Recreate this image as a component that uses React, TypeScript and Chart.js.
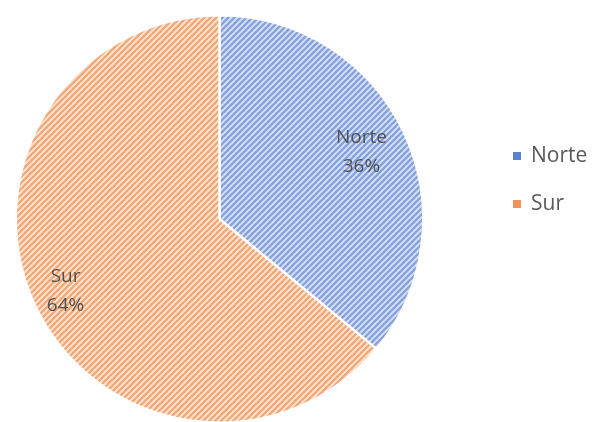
import React, { useEffect, useRef } from "react";
import { Chart, registerables } from "chart.js";

Chart.register(...registerables);

const categories = ["Norte", "Sur"];
const shares = [36, 64];
const legendColors = ["#5b82d0", "#f0955a"];
const lineColors = ["#86a2dc", "#f3a877"];
const bgColors = ["#d7e1f4", "#fde5d3"];
const labelRadius = [0.77, 0.835];

function makePattern(bg: string, line: string): CanvasPattern | string {
  const s = 6;
  const c = document.createElement("canvas");
  c.width = s;
  c.height = s;
  const g = c.getContext("2d");
  if (!g) return line;
  g.fillStyle = bg;
  g.fillRect(0, 0, s, s);
  g.strokeStyle = line;
  g.lineWidth = 2.3;
  g.beginPath();
  g.moveTo(-1, s + 1);
  g.lineTo(s + 1, -1);
  g.moveTo(-1, 1);
  g.lineTo(1, -1);
  g.moveTo(s - 1, s + 1);
  g.lineTo(s + 1, s - 1);
  g.stroke();
  const p = g.createPattern(c, "repeat");
  return p || line;
}

const labelPlugin = {
  id: "sliceLabels",
  afterDatasetsDraw(chart: any) {
    const ctx = chart.ctx;
    const meta = chart.getDatasetMeta(0);
    const data = chart.data.datasets[0].data as number[];
    const total = data.reduce((a, b) => a + b, 0);
    ctx.save();
    ctx.font = "19px 'Open Sans', sans-serif";
    ctx.fillStyle = "#505050";
    ctx.textAlign = "center";
    ctx.textBaseline = "middle";
    meta.data.forEach((arc: any, i: number) => {
      const { x, y, startAngle, endAngle, outerRadius } = arc.getProps(
        ["x", "y", "startAngle", "endAngle", "outerRadius"],
        true
      );
      const mid = (startAngle + endAngle) / 2;
      const r = outerRadius * labelRadius[i];
      const cx = x + Math.cos(mid) * r;
      const cy = y + Math.sin(mid) * r;
      const pct = Math.round((data[i] / total) * 100) + "%";
      ctx.fillText(chart.data.labels[i], cx, cy - 15);
      ctx.fillText(pct, cx, cy + 14);
    });
    ctx.restore();
  },
};

const legendPlugin = {
  id: "sideLegend",
  afterDraw(chart: any) {
    const ctx = chart.ctx;
    ctx.save();
    ctx.font = "21px 'Open Sans', sans-serif";
    ctx.textBaseline = "middle";
    ctx.textAlign = "left";
    const x0 = 513;
    const y0 = 156;
    const gap = 48;
    (chart.data.labels as string[]).forEach((lab, i) => {
      const y = y0 + i * gap;
      ctx.fillStyle = legendColors[i];
      ctx.fillRect(x0, y - 4, 8, 8);
      ctx.fillStyle = "#595959";
      ctx.fillText(lab, x0 + 18, y);
    });
    ctx.restore();
  },
};

export default function App() {
  const ref = useRef<HTMLCanvasElement | null>(null);
  useEffect(() => {
    if (!ref.current) return;
    const patterns = categories.map((_, i) => makePattern(bgColors[i], lineColors[i]));
    const chart = new Chart(ref.current, {
      type: "pie",
      data: {
        labels: categories,
        datasets: [
          {
            data: shares,
            backgroundColor: patterns as any,
            borderColor: "#ffffff",
            borderWidth: 2.5,
          },
        ],
      },
      options: {
        responsive: false,
        maintainAspectRatio: false,
        animation: false,
        layout: { padding: { left: 14.5, top: 14, right: 170.5, bottom: 6 } },
        plugins: {
          legend: { display: false },
          tooltip: { enabled: false },
        },
      },
      plugins: [labelPlugin, legendPlugin],
    });
    return () => chart.destroy();
  }, []);
  return (
    <div style={{ position: "fixed", left: 0, top: 0, width: 595, height: 430, background: "#ffffff" }}>
      <canvas ref={ref} width={595} height={430} style={{ display: "block" }} />
    </div>
  );
}
